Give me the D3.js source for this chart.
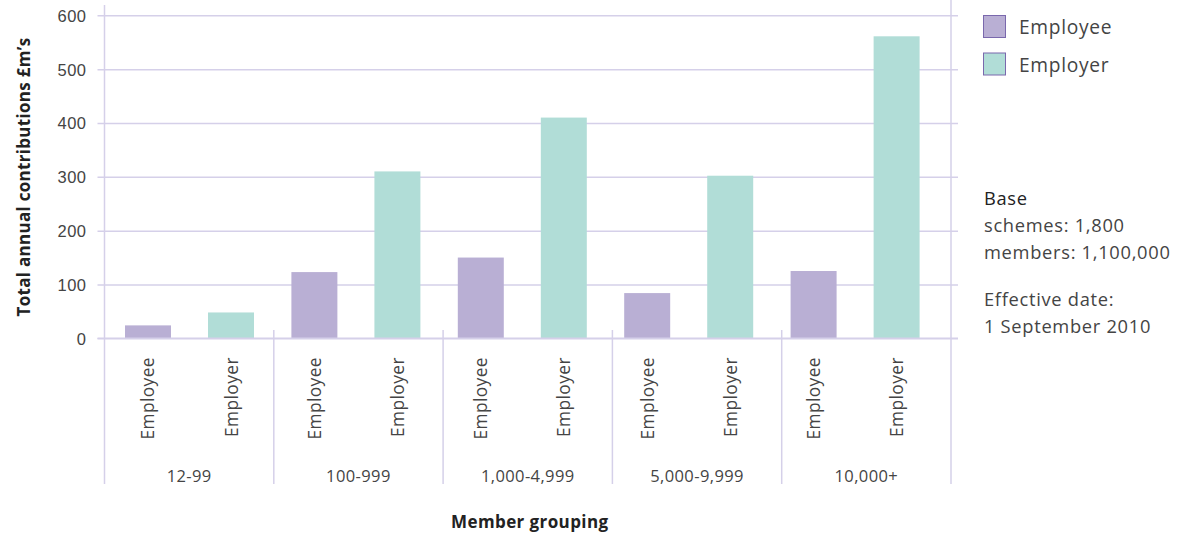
<!DOCTYPE html>
<html>
<head>
<meta charset="utf-8">
<script src="https://cdn.jsdelivr.net/npm/d3@7"></script>
<style>
  html, body { margin: 0; padding: 0; background: #fff; }
  svg { display: block; font-family: "Open Sans", Lato, sans-serif; }
</style>
</head>
<body>
<svg id="chart" width="1177" height="537"></svg>
<script>
// Member groupings and contribution series (£m per year)
const groups = ["12-99", "100-999", "1,000-4,999", "5,000-9,999", "10,000+"];
const seriesNames = ["Employee", "Employer"];
const employeeValues = [24, 123, 150, 84, 125];
const employerValues = [48, 310, 410, 302, 561];
const yTicks = [0, 100, 200, 300, 400, 500, 600];
const baseLines = ["schemes: 1,800", "members: 1,100,000"];
const dateLines = ["Effective date:", "1 September 2010"];

const colors = { Employee: "#b9afd4", Employer: "#b1ddd7" };
const gridColor = "#d5d0e9";
const textColor = "#444";

const svg = d3.select("#chart");

const plot = { left: 104.5, right: 951, top: 15.3, bottom: 338.3, lower: 484 };

const y = d3.scaleLinear().domain([0, 600]).range([plot.bottom, plot.top]);
// Category frame (separators and group labels)
const xGroup = d3.scaleBand().domain(groups).range([plot.left, plot.right]);
// Bar placement
const xBar = d3.scaleBand().domain(groups).range([104, 936]);
const xSeries = d3.scaleBand().domain(seriesNames).range([21, 150]).paddingInner(0.446).paddingOuter(0);

// Horizontal gridlines (also serve as tick marks on the left)
const yAxis = d3.axisLeft(y).tickValues(yTicks).tickSize(0).tickPadding(0);
const gy = svg.append("g").attr("transform", `translate(${plot.left - 7},0)`).call(yAxis);
gy.select(".domain").remove();
gy.selectAll(".tick line").attr("stroke", gridColor).attr("stroke-width", 1.5)
  .attr("x1", 0).attr("x2", plot.right - plot.left + 14);
gy.selectAll(".tick text").attr("fill", textColor).attr("font-size", 16.5)
  .attr("letter-spacing", 0.5).attr("x", -11).attr("dy", "0.36em");

// Vertical frame lines
svg.append("line").attr("x1", plot.left).attr("x2", plot.left).attr("y1", 5).attr("y2", plot.lower)
  .attr("stroke", gridColor).attr("stroke-width", 1.5);
svg.append("line").attr("x1", plot.right).attr("x2", plot.right).attr("y1", 0).attr("y2", plot.lower)
  .attr("stroke", gridColor).attr("stroke-width", 1.5);

// Group separators below the baseline
svg.append("g").selectAll("line").data(groups.slice(1)).join("line")
  .attr("x1", d => xGroup(d)).attr("x2", d => xGroup(d))
  .attr("y1", 330).attr("y2", plot.lower)
  .attr("stroke", gridColor).attr("stroke-width", 1.5);

// Bars
const rows = groups.map((g, i) => ({ group: g, Employee: employeeValues[i], Employer: employerValues[i] }));
const gBars = svg.append("g").selectAll("g").data(rows).join("g")
  .attr("transform", d => `translate(${xBar(d.group)},0)`);
gBars.selectAll("rect").data(d => seriesNames.map(k => ({ key: k, value: d[k] }))).join("rect")
  .attr("x", d => xSeries(d.key))
  .attr("width", xSeries.bandwidth())
  .attr("y", d => y(d.value))
  .attr("height", d => y(0) - y(d.value))
  .attr("fill", d => colors[d.key]);

// Redraw baseline on top of bars
svg.append("line").attr("x1", plot.left - 7).attr("x2", plot.right + 7)
  .attr("y1", y(0)).attr("y2", y(0)).attr("stroke", gridColor).attr("stroke-width", 1.5);

// Rotated series labels under each bar
gBars.selectAll("text.series").data(seriesNames).join("text")
  .attr("class", "series")
  .attr("transform", d => `translate(${xSeries(d) + xSeries.bandwidth() / 2 + 6.5},357) rotate(-90)`)
  .attr("text-anchor", "end")
  .attr("font-size", 17.3)
  .attr("letter-spacing", 0.45)
  .attr("fill", textColor)
  .text(d => d);

// Group labels
svg.append("g").selectAll("text").data(groups).join("text")
  .attr("x", d => xGroup(d) + xGroup.bandwidth() / 2)
  .attr("y", 482)
  .attr("text-anchor", "middle")
  .attr("font-size", 16.5)
  .attr("letter-spacing", 0.4)
  .attr("fill", textColor)
  .text(d => d);

// Axis titles
svg.append("text")
  .attr("x", (plot.left + plot.right) / 2 + 2).attr("y", 528)
  .attr("text-anchor", "middle").attr("font-size", 17).attr("font-weight", "bold")
  .attr("letter-spacing", 0.4)
  .attr("fill", "#222").text("Member grouping");

svg.append("text")
  .attr("transform", `translate(30,177) rotate(-90)`)
  .attr("text-anchor", "middle").attr("font-size", 17).attr("font-weight", "bold")
  .attr("letter-spacing", 0.3)
  .attr("fill", "#222").text("Total annual contributions £m’s");

// Legend
const legend = svg.append("g").attr("transform", "translate(983,15)");
const li = legend.selectAll("g").data(seriesNames).join("g")
  .attr("transform", (d, i) => `translate(0,${i * 37.5})`);
li.append("rect").attr("x", 0.5).attr("y", 0.5).attr("width", 22).attr("height", 22)
  .attr("fill", d => colors[d]).attr("stroke", "#7a68ad").attr("stroke-width", 1);
li.append("text").attr("x", 36).attr("y", 19).attr("font-size", 19.2).attr("letter-spacing", 0.7)
  .attr("fill", textColor).text(d => d);

// Notes
const notes = svg.append("g").attr("transform", "translate(984,0)");
notes.append("text").attr("y", 205).attr("font-size", 18.3).attr("letter-spacing", 0.7)
  .attr("fill", "#222").text("Base");
notes.selectAll("text.base").data(baseLines).join("text").attr("class", "base")
  .attr("y", (d, i) => 232 + i * 27).attr("font-size", 18.3).attr("letter-spacing", 0.7)
  .attr("fill", textColor).text(d => d);
notes.selectAll("text.date").data(dateLines).join("text").attr("class", "date")
  .attr("y", (d, i) => 306 + i * 27).attr("font-size", 18.3).attr("letter-spacing", 0.7)
  .attr("fill", textColor).text(d => d);
</script>
</body>
</html>
